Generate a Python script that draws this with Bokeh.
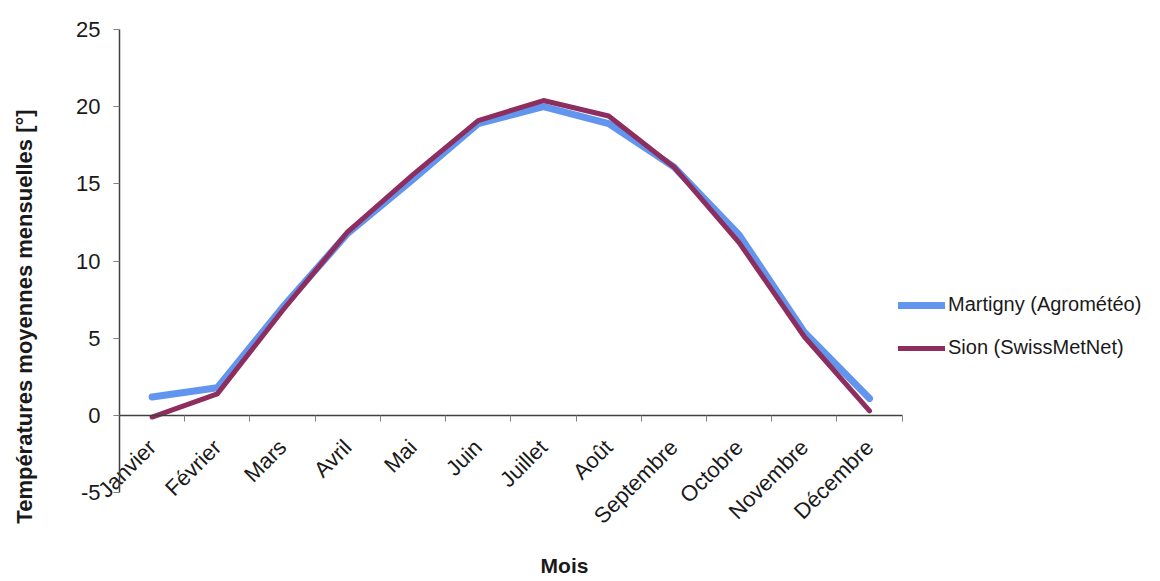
from math import pi
from bokeh.plotting import figure
from bokeh.models import (Range1d, LinearAxis, FixedTicker, Label, Legend, LegendItem,
                          ColumnDataSource, Grid)
from bokeh.embed import file_html
from bokeh.resources import INLINE

months = ["Janvier", "Février", "Mars", "Avril", "Mai", "Juin", "Juillet",
          "Août", "Septembre", "Octobre", "Novembre", "Décembre"]
martigny = [1.2, 1.8, 7.0, 11.8, 15.3, 18.9, 20.0, 18.9, 16.1, 11.7, 5.4, 1.1]
sion = [-0.1, 1.4, 6.8, 11.9, 15.6, 19.1, 20.4, 19.4, 16.1, 11.2, 5.1, 0.3]
y_ticks = [-5, 0, 5, 10, 15, 20, 25]
series_names = ["Martigny (Agrométéo)", "Sion (SwissMetNet)"]
y_title = "Températures moyennes mensuelles [°]"
x_title = "Mois"

FONT = "Liberation Sans"
W, H = 1160, 581
px_x = 65.22   # px per month
px_y = 15.44   # px per degree
x0_px, y0_px = 119, 415

xs = [i + 0.5 for i in range(len(months))]

p = figure(width=W, height=H, output_backend="svg", toolbar_location=None,
           x_range=Range1d(-x0_px / px_x, (W - x0_px) / px_x),
           y_range=Range1d(-(H - y0_px) / px_y, y0_px / px_y),
           x_axis_location=None, y_axis_location=None, min_border=0,
           min_border_left=0, min_border_right=0, min_border_top=0, min_border_bottom=0)
p.outline_line_color = None
p.background_fill_color = "white"
p.border_fill_color = "white"
p.center = [r for r in p.center if not isinstance(r, Grid)]

src = ColumnDataSource(dict(x=xs, m=martigny, s=sion))
r1 = p.line("x", "m", source=src, line_color="#6295EE", line_width=7,
            line_cap="round", line_join="round")
r2 = p.line("x", "s", source=src, line_color="#8E2E5E", line_width=5,
            line_cap="round", line_join="round")

# y axis at x = 0
yaxis = LinearAxis(fixed_location=0, bounds=(y_ticks[0], y_ticks[-1]),
                   ticker=FixedTicker(ticks=y_ticks, minor_ticks=[]))
yaxis.major_label_overrides = {t: str(t) for t in y_ticks}
yaxis.axis_line_color = "#404040"
yaxis.axis_line_width = 1.5
yaxis.major_tick_out = 6
yaxis.major_tick_in = 0
yaxis.major_tick_line_color = "#808080"
yaxis.minor_tick_out = 0
yaxis.major_label_standoff = 13
yaxis.major_label_text_font = FONT
yaxis.major_label_text_font_size = "22px"
yaxis.major_label_text_color = "#1a1a1a"
p.add_layout(yaxis, "left")

# x axis at y = 0
xaxis = LinearAxis(fixed_location=0, bounds=(0, len(months)),
                   ticker=FixedTicker(ticks=xs, minor_ticks=list(range(len(months) + 1))))
xaxis.major_label_overrides = {x: m for x, m in zip(xs, months)}
xaxis.axis_line_color = "#404040"
xaxis.axis_line_width = 1.5
xaxis.major_tick_out = 0
xaxis.major_tick_in = 0
xaxis.minor_tick_out = 6
xaxis.minor_tick_in = 0
xaxis.minor_tick_line_color = "#808080"
xaxis.major_label_orientation = pi / 4
xaxis.major_label_standoff = 22
xaxis.major_label_text_font = FONT
xaxis.major_label_text_font_size = "22px"
xaxis.major_label_text_color = "#1a1a1a"
p.add_layout(xaxis, "below")

p.add_layout(Label(x=(24 - x0_px) / px_x, y=(y0_px - 316) / px_y, text=y_title,
                   angle=pi / 2, text_align="center", text_baseline="middle",
                   text_font=FONT, text_font_size="22px", text_font_style="bold",
                   text_color="#1a1a1a"))
p.add_layout(Label(x=(564 - x0_px) / px_x, y=(y0_px - 565) / px_y, text=x_title,
                   text_align="center", text_baseline="middle",
                   text_font=FONT, text_font_size="21px", text_font_style="bold",
                   text_color="#1a1a1a"))

legend = Legend(items=[LegendItem(label=series_names[0], renderers=[r1]),
                       LegendItem(label=series_names[1], renderers=[r2])],
                location=(898, 222), orientation="vertical",
                glyph_width=47, glyph_height=20, label_height=20, spacing=20,
                label_standoff=3, padding=0, margin=0,
                label_text_font=FONT, label_text_font_size="20px",
                label_text_color="#1a1a1a",
                background_fill_alpha=0, border_line_color=None)
p.add_layout(legend, "center")

open("out.html", "w").write(file_html(p, INLINE))
